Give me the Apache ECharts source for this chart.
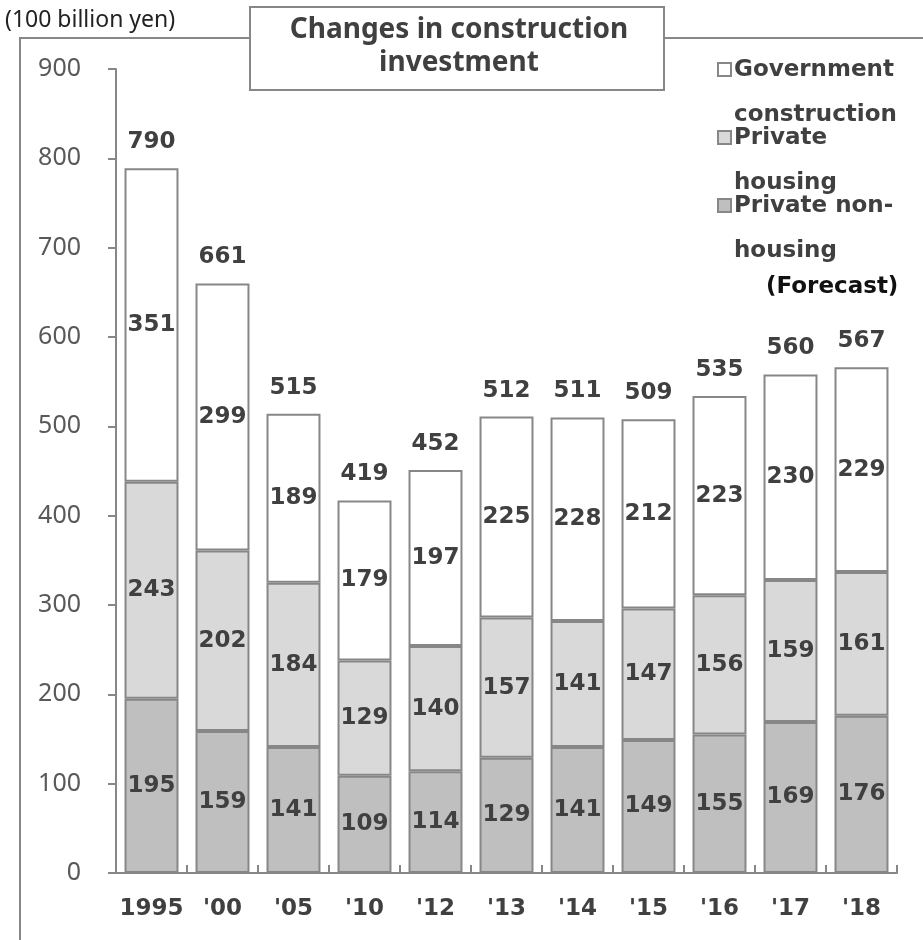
<!DOCTYPE html>
<html>
<head>
<meta charset="utf-8">
<title>Changes in construction investment</title>
<script src="https://cdn.jsdelivr.net/npm/echarts@6/dist/echarts.min.js"></script>
<style>
  html, body { margin: 0; padding: 0; background: #ffffff; }
  #chart { width: 923px; height: 940px; }
</style>
</head>
<body>
<div id="chart"></div>
<script>
// Construction investment by type, in 100 billion yen
const categories = ['1995', "'00", "'05", "'10", "'12", "'13", "'14", "'15", "'16", "'17", "'18"];
const privateNonHousing = [195, 159, 141, 109, 114, 129, 141, 149, 155, 169, 176];
const privateHousing = [243, 202, 184, 129, 140, 157, 141, 147, 156, 159, 161];
const governmentConstruction = [351, 299, 189, 179, 197, 225, 228, 212, 223, 230, 229];
const totals = [790, 661, 515, 419, 452, 512, 511, 509, 535, 560, 567];

const seriesNames = ['Government construction', 'Private housing', 'Private non-housing'];
const legendLines = ['Government\nconstruction', 'Private\nhousing', 'Private non-\nhousing'];

const TEXT = '#404040';
const EDGE = '#878787';
const BOLD_FONT = '"DejaVu Sans", Verdana, sans-serif';
const PLAIN_FONT = '"Noto Sans", "Open Sans", sans-serif';
const fills = { gov: '#ffffff', housing: '#d9d9d9', nonHousing: '#bfbfbf' };
const LABEL_SIZE = 23;

const segLabel = {
  show: true,
  position: 'inside',
  color: TEXT,
  fontFamily: BOLD_FONT,
  fontWeight: 'bold',
  fontSize: LABEL_SIZE
};

function barSeries(name, data, fill) {
  return {
    name: name,
    type: 'bar',
    stack: 'total',
    data: data,
    barCategoryGap: '24%',
    itemStyle: { color: fill, borderColor: EDGE, borderWidth: 2 },
    label: segLabel,
    emphasis: { disabled: true },
    animation: false
  };
}

const chart = echarts.init(document.getElementById('chart'), null, { renderer: 'canvas' });

// Hand-placed legend and frame decorations
const legendGraphics = [];
const legendFills = [fills.gov, fills.housing, fills.nonHousing];
const legendTop = [63, 131, 199];
for (let i = 0; i < 3; i++) {
  legendGraphics.push({
    type: 'rect',
    shape: { x: 718, y: legendTop[i], width: 13, height: 13 },
    style: { fill: legendFills[i], stroke: EDGE, lineWidth: 2 }
  });
  legendGraphics.push({
    type: 'text',
    x: 734,
    y: legendTop[i] + 7 - 22.5,
    style: {
      text: legendLines[i],
      fill: TEXT,
      font: 'bold 23px ' + BOLD_FONT,
      lineHeight: 45,
      verticalAlign: 'top'
    }
  });
}

chart.setOption({
  animation: false,
  backgroundColor: '#ffffff',
  grid: { left: 116, right: 26, top: 69, bottom: 67, containLabel: false },
  xAxis: {
    type: 'category',
    data: categories,
    boundaryGap: true,
    axisLine: { show: true, lineStyle: { color: EDGE, width: 2 } },
    axisTick: { show: true, inside: true, length: 8, lineStyle: { color: EDGE, width: 2 } },
    axisLabel: {
      interval: 0,
      color: TEXT,
      fontFamily: BOLD_FONT,
      fontWeight: 'bold',
      fontSize: LABEL_SIZE,
      margin: 25
    }
  },
  yAxis: {
    type: 'value',
    min: 0,
    max: 900,
    interval: 100,
    axisLine: { show: true, lineStyle: { color: EDGE, width: 2 } },
    axisTick: { show: true, inside: false, length: 8, lineStyle: { color: EDGE, width: 2 } },
    axisLabel: {
      color: '#595959',
      fontFamily: PLAIN_FONT,
      fontSize: 25,
      margin: 35
    },
    splitLine: { show: false }
  },
  series: [
    barSeries(seriesNames[2], privateNonHousing, fills.nonHousing),
    barSeries(seriesNames[1], privateHousing, fills.housing),
    barSeries(seriesNames[0], governmentConstruction, fills.gov),
    {
      // stack totals, shown as labels above each bar
      name: 'Total',
      type: 'scatter',
      data: totals,
      symbolSize: 1,
      itemStyle: { color: 'rgba(0,0,0,0)', opacity: 1 },
      z: 5,
      label: {
        show: true,
        position: 'top',
        distance: 13,
        color: TEXT,
        opacity: 1,
        fontFamily: BOLD_FONT,
        fontWeight: 'bold',
        fontSize: LABEL_SIZE
      },
      emphasis: { disabled: true }
    }
  ],
  graphic: [
    // outer frame: left edge and top edge, broken by the title box
    {
      type: 'polyline',
      shape: { points: [[20, 940], [20, 38], [250, 38]] },
      style: { stroke: EDGE, lineWidth: 2, fill: null }
    },
    {
      type: 'line',
      shape: { x1: 664, y1: 38, x2: 923, y2: 38 },
      style: { stroke: EDGE, lineWidth: 2 }
    },
    {
      type: 'rect',
      shape: { x: 250, y: 7, width: 414, height: 83 },
      style: { fill: '#ffffff', stroke: EDGE, lineWidth: 2 }
    },
    {
      type: 'text',
      x: 459,
      y: 47,
      style: {
        text: 'Changes in construction\ninvestment',
        fill: TEXT,
        font: 'bold 28px ' + PLAIN_FONT,
        lineHeight: 33,
        align: 'center',
        verticalAlign: 'middle'
      }
    },
    {
      type: 'text',
      x: 5,
      y: 20,
      style: {
        text: '(100 billion yen)',
        fill: '#222222',
        font: '23px ' + PLAIN_FONT,
        verticalAlign: 'middle'
      }
    },
    {
      type: 'text',
      x: 766,
      y: 287,
      style: {
        text: '(Forecast)',
        fill: '#111111',
        font: 'bold 23px ' + BOLD_FONT,
        verticalAlign: 'middle'
      }
    }
  ].concat(legendGraphics)
});
</script>
</body>
</html>
